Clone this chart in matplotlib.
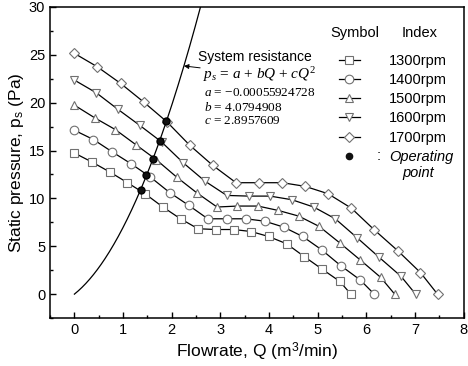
import numpy as np
import matplotlib
matplotlib.use('Agg')
import matplotlib.pyplot as plt
from matplotlib.lines import Line2D
from matplotlib.ticker import MultipleLocator

plt.rcParams['font.family'] = 'Liberation Sans'
plt.rcParams['mathtext.fontset'] = 'custom'
plt.rcParams['mathtext.rm'] = 'Liberation Serif'
plt.rcParams['mathtext.it'] = 'Liberation Serif:italic'

# fan curves
labels = ['1300rpm', '1400rpm', '1500rpm', '1600rpm', '1700rpm']
markers = ['s', 'o', '^', 'v', 'D']

q1300 = [0, 0.36, 0.73, 1.09, 1.45, 1.82, 2.18, 2.54, 2.90, 3.27, 3.63, 3.99, 4.36, 4.72, 5.08, 5.45, 5.68]
p1300 = [14.74, 13.80, 12.75, 11.64, 10.49, 9.09, 7.87, 6.83, 6.75, 6.75, 6.54, 6.02, 5.26, 3.93, 2.64, 1.34, 0]

q1400 = [0, 0.39, 0.78, 1.17, 1.56, 1.96, 2.35, 2.74, 3.13, 3.52, 3.91, 4.30, 4.69, 5.08, 5.47, 5.87, 6.16]
p1400 = [17.12, 16.15, 14.85, 13.60, 12.23, 10.60, 9.27, 7.87, 7.87, 7.87, 7.62, 7.00, 6.02, 4.63, 2.98, 1.49, 0]

q1500 = [0, 0.42, 0.84, 1.26, 1.68, 2.10, 2.51, 2.93, 3.35, 3.77, 4.19, 4.61, 5.03, 5.45, 5.87, 6.29, 6.58]
p1500 = [19.74, 18.41, 17.19, 15.62, 14.05, 12.23, 10.60, 9.10, 9.20, 9.20, 8.74, 8.15, 7.07, 5.36, 3.58, 1.76, 0]

q1600 = [0, 0.45, 0.89, 1.34, 1.79, 2.24, 2.68, 3.13, 3.58, 4.02, 4.47, 4.92, 5.36, 5.81, 6.26, 6.71, 7.01]
p1600 = [22.36, 21.03, 19.32, 17.64, 15.90, 13.70, 11.81, 10.31, 10.24, 10.24, 9.86, 9.09, 7.87, 5.88, 3.85, 1.86, 0]

q1700 = [0, 0.47, 0.95, 1.42, 1.90, 2.37, 2.84, 3.32, 3.79, 4.27, 4.74, 5.21, 5.69, 6.16, 6.64, 7.11, 7.46]
p1700 = [25.15, 23.75, 22.01, 20.08, 18.00, 15.55, 13.46, 11.64, 11.64, 11.64, 11.26, 10.49, 8.98, 6.72, 4.55, 2.25, 0]

# operating points
op_q = [1.36, 1.48, 1.61, 1.75, 1.89]
op_p = [10.9, 12.4, 14.1, 16.0, 18.1]

# system resistance coefficients
a = -0.00055924728
b = 4.0794908
c = 2.8957609

fig = plt.figure(figsize=(4.68, 3.66), dpi=100)
ax = fig.add_axes([0.107, 0.131, 0.884, 0.850])

qs = [q1300, q1400, q1500, q1600, q1700]
ps = [p1300, p1400, p1500, p1600, p1700]
handles = []
for q, p, m, lab in zip(qs, ps, markers, labels):
    h, = ax.plot(q, p, color='black', lw=0.9, marker=m, ms=6.2 if m not in ('s', 'D') else 5.4,
                 mfc='white', mec='#707070', mew=0.8, label=lab)
    handles.append(h)

Q = np.linspace(0, 2.6, 200)
ax.plot(Q, a + b*Q + c*Q**2, color='black', lw=0.9)

ax.plot(op_q, op_p, 'o', color='#111111', mec='black', ms=5, zorder=5)

ax.set_xlim(-0.5, 8)
ax.set_ylim(-2.5, 30)
ax.xaxis.set_major_locator(MultipleLocator(1))
ax.xaxis.set_minor_locator(MultipleLocator(0.5))
ax.yaxis.set_major_locator(MultipleLocator(5))
ax.yaxis.set_minor_locator(MultipleLocator(2.5))
ax.tick_params(which='both', direction='in', labelsize=10.5, width=1)
ax.tick_params(which='major', length=4.5)
ax.tick_params(which='minor', length=2.5)
for s in ax.spines.values():
    s.set_linewidth(1.1)

ax.set_xlabel('Flowrate, Q (m$^\\mathregular{3}$/min)', fontsize=12.5, labelpad=3)
ax.set_ylabel('Static pressure, p$_\\mathregular{s}$ (Pa)', fontsize=12.5, labelpad=2)

# system resistance annotation
ax.text(2.54, 24.8, 'System resistance', fontsize=10, va='center', ha='left')
ax.annotate('$p_s$ = $a$ + $bQ$ + $cQ^2$', xy=(2.25, a + b*2.25 + c*2.25**2), xytext=(2.64, 22.9),
            fontsize=11, va='center', ha='left', family='Liberation Serif',
            arrowprops=dict(arrowstyle='-|>', color='black', lw=0.7, mutation_scale=7,
                            shrinkA=0, shrinkB=0))
ax.text(2.66, 21.0, '$a$ = \u22120.00055924728', fontsize=9.5, va='center', ha='left',
        family='Liberation Serif')
ax.text(2.66, 19.5, '$b$ = 4.0794908', fontsize=9.5, va='center', ha='left',
        family='Liberation Serif')
ax.text(2.66, 18.1, '$c$ = 2.8957609', fontsize=9.5, va='center', ha='left',
        family='Liberation Serif')

# legend
op_handle = Line2D([], [], ls='none', marker='o', color='#111111', ms=4.5)
leg = ax.legend(handles + [op_handle], labels + ['Operating'], loc='upper left',
                bbox_to_anchor=(0.698, 0.85), frameon=False, fontsize=10.5,
                handlelength=1.45, handletextpad=2.0, labelspacing=0.36,
                borderpad=0, borderaxespad=0)
leg.get_texts()[-1].set_style('italic')
ax.text(0.737, 0.916, 'Symbol', transform=ax.transAxes, fontsize=10.5, ha='center', va='center')
ax.text(0.894, 0.916, 'Index', transform=ax.transAxes, fontsize=10.5, ha='center', va='center')
ax.text(0.793, 0.522, ':', transform=ax.transAxes, fontsize=10.5, ha='center', va='center')
ax.text(0.889, 0.466, 'point', transform=ax.transAxes, fontsize=10.5, ha='center', va='center',
        style='italic')

fig.savefig('out.png', dpi=100)
